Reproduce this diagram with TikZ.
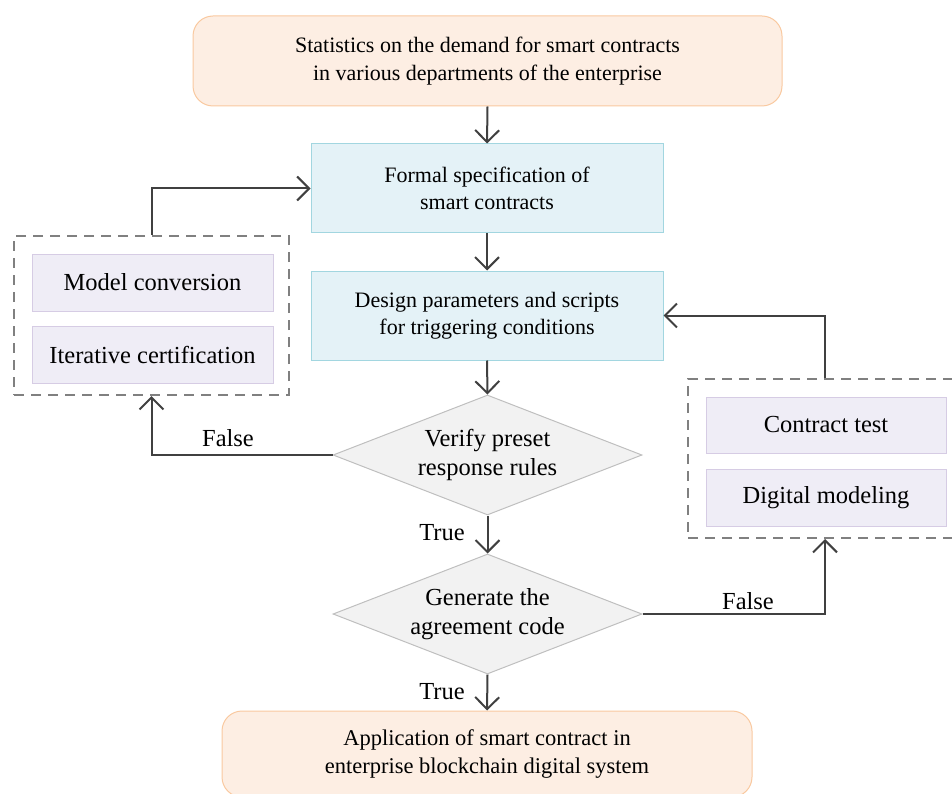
\documentclass[tikz,border=0pt]{standalone}
\usepackage{fontspec}
\setmainfont{Liberation Serif}
\usetikzlibrary{arrows.meta,shapes.geometric}
\definecolor{orfill}{HTML}{FDEEE3}
\definecolor{ordraw}{HTML}{F9C9A0}
\definecolor{blfill}{HTML}{E4F2F7}
\definecolor{bldraw}{HTML}{A2D6E0}
\definecolor{lvfill}{HTML}{EFEDF6}
\definecolor{lvdraw}{HTML}{D6CCE4}
\definecolor{dmfill}{HTML}{F2F2F2}
\definecolor{dmdraw}{HTML}{BFBFBF}
\definecolor{linec}{HTML}{404040}
\definecolor{dashc}{HTML}{808080}
\begin{document}
\begin{tikzpicture}[x=1pt,y=-1pt,
  every node/.style={font=\fontsize{22}{27.5}\selectfont, align=center, inner sep=0pt},
  bigtext/.style={font=\fontsize{24.5}{29}\selectfont},
  endbox/.style={rounded corners=20pt, fill=orfill, draw=ordraw, line width=1pt},
  procbox/.style={fill=blfill, draw=bldraw, line width=1pt, minimum width=352pt, minimum height=89pt},
  subbox/.style={bigtext, fill=lvfill, draw=lvdraw, line width=1pt},
  decision/.style={bigtext, diamond, aspect=2.575, fill=dmfill, draw=dmdraw, line width=1pt, minimum width=309pt, minimum height=120pt},
  groupbox/.style={draw=dashc, line width=2pt, dash pattern=on 10pt off 7pt},
  flow/.style={draw=linec, line width=2pt, -{Straight Barb[length=12pt,width=24pt,line width=2pt]}},
  lbl/.style={bigtext}
]
\useasboundingbox (0,0) rectangle (952,794);
\clip (0,0) rectangle (952,794);

% main column
\node[endbox, minimum width=589pt, minimum height=90pt] (start) at (487.5,61)
  {Statistics on the demand for smart contracts\\in various departments of the enterprise};
\node[procbox] (formal) at (487,188.5) {Formal specification of\\smart contracts};
\node[procbox] (design) at (487,315.5) {Design parameters and scripts\\for triggering conditions};
\node[decision] (verify) at (487.5,455) {Verify preset\\response rules};
\node[decision] (gen) at (487.5,614) {Generate the\\agreement code};
\node[endbox, minimum width=530pt, minimum height=86pt, font=\fontsize{22.5}{28}\selectfont] (app) at (487,754)
  {Application of smart contract in\\enterprise blockchain digital system};

% left feedback group
\node[groupbox, minimum width=275pt, minimum height=159pt] (lgroup) at (151.5,315.5) {};
\node[subbox, minimum width=241pt, minimum height=57pt] (model) at (152.5,282.5) {Model conversion};
\node[subbox, minimum width=241pt, minimum height=57pt] (iter) at (152.5,354.5) {Iterative certification};

% right feedback group
\node[groupbox, minimum width=274pt, minimum height=159pt] (rgroup) at (825,458.5) {};
\node[subbox, minimum width=240pt, minimum height=56pt] (ctest) at (826,425) {Contract test};
\node[subbox, minimum width=240pt, minimum height=57pt] (dmodel) at (826,497.5) {Digital modeling};

% connectors
\draw[flow] (start.south) -- (formal.north);
\draw[flow] (formal.south) -- (design.north);
\draw[flow] (design.south) -- (verify.north);
\draw[flow] (verify.south) -- (gen.north);
\draw[flow] (gen.south) -- (app.north);
\draw[flow] (verify.west) -| (lgroup.south);
\draw[flow] (lgroup.north) |- (formal.west);
\draw[flow] (gen.east) -| (rgroup.south);
\draw[flow] (rgroup.north) |- (design.east);

% branch labels
\node[lbl] (t1) at (442,533) {True};
\node[lbl] (t2) at (442,692) {True};
\node[lbl] (f1) at (228,438) {False};
\node[lbl] (f2) at (748,601) {False};
\end{tikzpicture}
\end{document}
